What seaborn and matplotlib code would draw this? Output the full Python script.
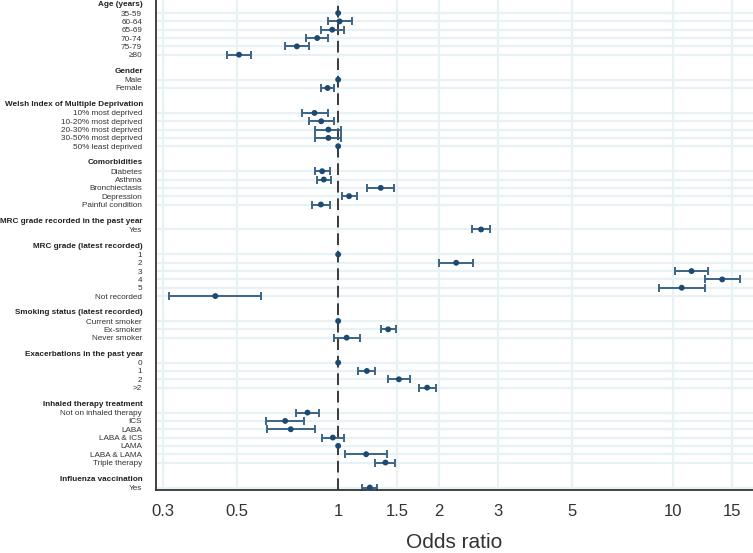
import numpy as np
import pandas as pd
import matplotlib
matplotlib.use("Agg")
import matplotlib.pyplot as plt
import matplotlib.transforms as mtransforms
from matplotlib import font_manager
import seaborn as sns

# group headers and the items under each
headers = [
    "Age (years)",
    "Gender",
    "Welsh Index of Multiple Deprivation",
    "Comorbidities",
    "MRC grade recorded in the past year",
    "MRC grade (latest recorded)",
    "Smoking status (latest recorded)",
    "Exacerbations in the past year",
    "Inhaled therapy treatment",
    "Influenza vaccination",
]

labels = [
    "35-59", "60-64", "65-69", "70-74", "75-79", "\u226580",
    "Male", "Female",
    "10% most deprived", "10-20% most deprived", "20-30% most deprived",
    "30-50% most deprived", "50% least deprived",
    "Diabetes", "Asthma", "Bronchiectasis", "Depression", "Painful condition",
    "Yes",
    "1", "2", "3", "4", "5", "Not recorded",
    "Current smoker", "Ex-smoker", "Never smoker",
    "0", "1", "2", ">2",
    "Not on inhaled therapy", "ICS", "LABA", "LABA & ICS", "LAMA",
    "LABA & LAMA", "Triple therapy",
    "Yes",
]
groups = [0] * 6 + [1] * 2 + [2] * 5 + [3] * 5 + [4] + [5] * 6 + [6] * 3 + [7] * 4 + [8] * 7 + [9]

nan = np.nan
odds = [1.0, 1.01, 0.96, 0.866, 0.753, 0.506,
        1.0, 0.93,
        0.85, 0.89, 0.935, 0.935, 1.0,
        0.896, 0.906, 1.34, 1.078, 0.888,
        2.67,
        1.0, 2.25, 11.34, 14.0, 10.6, 0.43,
        1.0, 1.41, 1.06,
        1.0, 1.218, 1.518, 1.843,
        0.81, 0.695, 0.722, 0.964, 1.0, 1.212, 1.384,
        1.243]
lower = [nan, 0.93, 0.89, 0.80, 0.695, 0.465,
         nan, 0.89,
         0.78, 0.82, 0.855, 0.855, nan,
         0.85, 0.864, 1.218, 1.026, 0.835,
         2.51,
         nan, 2.00, 10.1, 12.4, 9.05, 0.313,
         nan, 1.34, 0.973,
         nan, 1.147, 1.413, 1.737,
         0.749, 0.608, 0.613, 0.894, nan, 1.05, 1.29,
         1.18]
upper = [nan, 1.10, 1.04, 0.935, 0.82, 0.551,
         nan, 0.97,
         0.93, 0.97, 1.02, 1.02, nan,
         0.946, 0.955, 1.47, 1.137, 0.948,
         2.83,
         nan, 2.52, 12.7, 15.8, 12.4, 0.589,
         nan, 1.49, 1.16,
         nan, 1.29, 1.637, 1.957,
         0.877, 0.793, 0.85, 1.044, nan, 1.40, 1.48,
         1.31]

xticks = [0.3, 0.5, 1, 1.5, 2, 3, 5, 10, 15]

# row layout: header row, items, blank row between groups
rows = []
header_rows = []
r = 0
prev = None
for g in groups:
    if g != prev:
        if prev is not None:
            r += 1
        header_rows.append(r)
        r += 1
        prev = g
    rows.append(r)
    r += 1

df = pd.DataFrame({"label": labels, "row": rows, "odds": odds,
                   "lower": lower, "upper": upper})

sns.set_style("white")
names = {f.name for f in font_manager.fontManager.ttflist}
if "Liberation Sans Narrow" in names:
    lab_family, lab_size = ["Liberation Sans Narrow", "Liberation Sans", "DejaVu Sans"], 7.3
else:
    lab_family, lab_size = ["Liberation Sans", "DejaVu Sans"], 5.85
plt.rcParams["font.family"] = ["Liberation Sans", "DejaVu Sans"]

fig = plt.figure(figsize=(7.53, 5.53), dpi=100)
ax = fig.add_axes([156 / 753, 63 / 553, 597 / 753, 490 / 553])

grid_c = "#e8f1f4"
ax.set_xscale("log")
ax.set_xlim(0.286, 17.3)
ax.set_ylim(58.3, -0.57)

for x in xticks:
    ax.axvline(x, color=grid_c, lw=1.6, zorder=0)
for y in df["row"]:
    ax.axhline(y, color=grid_c, lw=1.6, zorder=0)

ax.axvline(1, color="#3a3a3a", lw=1.4, ls=(0, (6, 3)), zorder=1)

ci = df.dropna(subset=["lower"])
ax.errorbar(ci["odds"], ci["row"],
            xerr=[ci["odds"] - ci["lower"], ci["upper"] - ci["odds"]],
            fmt="none", ecolor="#3d6488", elinewidth=1.4, capsize=3.2,
            capthick=1.4, zorder=2)
sns.scatterplot(data=df, x="odds", y="row", ax=ax, color="#1b4a72",
                s=18, edgecolor="none", zorder=3, legend=False)

ax.set_yticks(df["row"])
ax.set_yticklabels(df["label"], family=lab_family, fontsize=lab_size,
                   color="#333333")
ax.tick_params(axis="y", length=7, width=1.2, color="#3a3a3a", pad=3)

ax.set_xticks(xticks)
ax.set_xticklabels([f"{v:g}" for v in xticks], fontsize=12, color="#333333")
ax.xaxis.set_minor_locator(matplotlib.ticker.NullLocator())
ax.tick_params(axis="x", length=6, width=1.0, color="#333333", pad=4)
ax.set_xlabel("Odds ratio", fontsize=15, color="#333333", labelpad=10)
ax.set_ylabel("")

for side in ["top", "right"]:
    ax.spines[side].set_visible(False)
for side in ["left", "bottom"]:
    ax.spines[side].set_color("#333333")
    ax.spines[side].set_linewidth(1.3)

trans = mtransforms.offset_copy(ax.get_yaxis_transform(), fig=fig,
                                x=-13, y=0, units="dots")
for h, hr in zip(headers, header_rows):
    ax.text(0, hr, h, transform=trans, ha="right", va="center",
            family=lab_family, fontsize=lab_size, fontweight="bold",
            color="#222222")

fig.savefig("out.png", dpi=100)
